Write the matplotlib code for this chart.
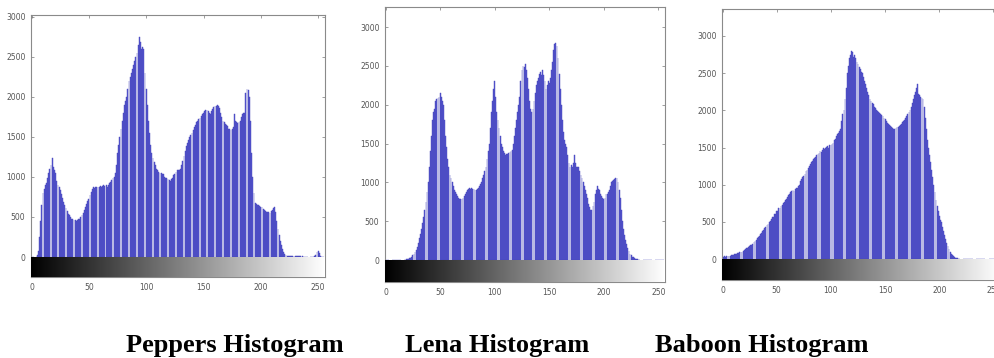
import numpy as np
import matplotlib
matplotlib.use("Agg")
import matplotlib.pyplot as plt

bins = np.arange(256)

peppers = [
    0, 0, 0, 0, 0, 20, 80, 250, 450, 650, 800, 850, 900, 930, 980, 1050,
    1100, 1150, 1230, 1120, 1080, 1050, 950, 900, 870, 840, 790, 740, 690, 650, 610, 570,
    540, 520, 500, 480, 470, 460, 460, 455, 460, 470, 480, 500, 520, 550, 590, 620,
    660, 700, 730, 770, 810, 850, 870, 860, 870, 870, 880, 880, 890, 880, 890, 900,
    890, 900, 880, 900, 920, 940, 960, 980, 1000, 1050, 1150, 1300, 1400, 1500, 1600, 1700,
    1800, 1900, 1950, 2000, 2100, 2200, 2250, 2300, 2350, 2400, 2450, 2500, 2550, 2650, 2750, 2680,
    2600, 2620, 2600, 2300, 2100, 1900, 1700, 1550, 1400, 1300, 1230, 1180, 1150, 1100, 1080, 1060,
    1050, 1050, 1040, 1030, 1000, 990, 980, 970, 960, 950, 970, 990, 1020, 1040, 1060, 1080,
    1080, 1090, 1100, 1150, 1200, 1260, 1320, 1380, 1420, 1460, 1500, 1520, 1550, 1580, 1620, 1650,
    1680, 1700, 1720, 1740, 1760, 1780, 1800, 1820, 1830, 1840, 1820, 1800, 1780, 1820, 1850, 1870,
    1880, 1890, 1900, 1890, 1860, 1800, 1750, 1700, 1680, 1660, 1650, 1630, 1600, 1600, 1590, 1600,
    1620, 1780, 1700, 1680, 1670, 1690, 1700, 1750, 1780, 1800, 1800, 2050, 2100, 2080, 2000, 1700,
    1300, 1000, 800, 680, 660, 650, 650, 640, 630, 620, 600, 590, 570, 560, 560, 560,
    550, 570, 590, 610, 620, 560, 450, 350, 280, 200, 150, 100, 60, 40, 25, 15,
    15, 15, 15, 15, 15, 15, 12, 10, 10, 10, 10, 10, 8, 6, 5, 5,
    5, 5, 5, 5, 5, 5, 5, 10, 30, 60, 70, 50, 10, 5, 5, 5,
]

lena = [
    0, 0, 0, 0, 0, 0, 0, 0, 0, 0, 0, 0, 0, 0, 0, 0,
    2, 3, 5, 8, 10, 15, 20, 30, 40, 60, 80, 100, 130, 170, 220, 280,
    340, 400, 480, 560, 650, 750, 880, 1000, 1200, 1400, 1600, 1800, 1900, 1950, 2050, 2070,
    2080, 2100, 2150, 2100, 2050, 2000, 1800, 1600, 1450, 1300, 1200, 1100, 1050, 1000, 950, 900,
    870, 850, 830, 800, 790, 780, 790, 800, 820, 850, 880, 900, 920, 930, 920, 930,
    920, 910, 900, 900, 910, 930, 950, 980, 1000, 1050, 1100, 1150, 1200, 1300, 1400, 1500,
    1700, 1900, 2050, 2200, 2300, 2100, 1900, 1800, 1700, 1600, 1500, 1450, 1400, 1380, 1350, 1360,
    1370, 1380, 1390, 1400, 1420, 1500, 1600, 1700, 1800, 1900, 2000, 2100, 2300, 2450, 2500, 2480,
    2520, 2450, 2350, 2200, 2050, 1950, 1900, 1950, 2050, 2150, 2250, 2300, 2350, 2400, 2420, 2380,
    2450, 2380, 2300, 2200, 2250, 2300, 2280, 2350, 2450, 2550, 2700, 2780, 2800, 2750, 2600, 2400,
    2200, 2000, 1800, 1650, 1550, 1500, 1450, 1350, 1250, 1200, 1220, 1200, 1250, 1350, 1250, 1200,
    1200, 1200, 1150, 1100, 1050, 1000, 950, 900, 850, 800, 720, 680, 650, 650, 700, 750,
    850, 900, 950, 920, 900, 850, 820, 800, 790, 800, 850, 850, 870, 900, 950, 1000,
    1020, 1030, 1040, 1050, 1060, 1000, 900, 800, 650, 500, 400, 320, 260, 200, 150, 110,
    80, 60, 45, 35, 25, 18, 12, 8, 5, 4, 3, 2, 2, 2, 1, 1,
    1, 1, 1, 1, 1, 1, 1, 1, 1, 1, 1, 1, 1, 1, 1, 1,
]

baboon = [
    30, 25, 35, 30, 40, 35, 45, 40, 50, 55, 50, 65, 70, 65, 80, 85,
    90, 100, 95, 110, 125, 130, 145, 150, 165, 170, 185, 195, 200, 225, 240, 255,
    280, 295, 310, 340, 350, 380, 395, 420, 430, 460, 470, 500, 510, 540, 560, 570,
    600, 610, 640, 650, 680, 690, 720, 730, 760, 770, 800, 810, 830, 860, 870, 900,
    910, 930, 920, 940, 950, 960, 980, 1000, 1050, 1080, 1100, 1120, 1150, 1180, 1200, 1230,
    1250, 1280, 1300, 1320, 1340, 1360, 1370, 1400, 1410, 1430, 1450, 1440, 1470, 1490, 1480, 1500,
    1510, 1520, 1500, 1530, 1540, 1550, 1560, 1600, 1620, 1650, 1680, 1700, 1720, 1750, 1850, 1950,
    2000, 2150, 2300, 2500, 2600, 2700, 2750, 2800, 2780, 2720, 2750, 2700, 2650, 2620, 2580, 2550,
    2520, 2500, 2450, 2400, 2350, 2300, 2250, 2200, 2150, 2120, 2100, 2080, 2050, 2030, 2000, 1990,
    1980, 1960, 1950, 1940, 1920, 1900, 1880, 1850, 1830, 1810, 1800, 1790, 1780, 1760, 1750, 1750,
    1760, 1770, 1780, 1790, 1800, 1820, 1840, 1850, 1870, 1900, 1920, 1950, 1980, 2000, 2050, 2100,
    2150, 2200, 2250, 2300, 2350, 2220, 2200, 2180, 2160, 2150, 2050, 1900, 1750, 1600, 1500, 1400,
    1300, 1200, 1100, 1000, 900, 800, 720, 650, 580, 520, 500, 430, 380, 320, 270, 220,
    180, 140, 100, 70, 50, 35, 25, 15, 10, 8, 6, 5, 4, 3, 3, 2,
    2, 2, 2, 2, 2, 2, 2, 2, 2, 2, 2, 2, 2, 2, 2, 2,
    2, 2, 2, 2, 2, 2, 2, 2, 2, 2, 2, 2, 2, 2, 2, 2,
]

captions = ["Peppers Histogram", "Lena Histogram", "Baboon Histogram"]
yticks = [0, 500, 1000, 1500, 2000, 2500, 3000]
xticks = [0, 50, 100, 150, 200, 250]

W, H = 995, 358
fig = plt.figure(figsize=(W / 100, H / 100), dpi=100)

# pixel boxes: left, right, top, bottom ; ylim (bottom, top)
panels = [
    (peppers, (31, 325, 15, 277), (-249, 3020)),
    (lena, (385, 665, 7, 282), (-283, 3258)),
    (baboon, (722, 1000, 9, 280), (-282, 3363)),
]

grad = np.linspace(0, 1, 256).reshape(1, -1)
for data, (l, r, t, b), ylim in panels:
    ax = fig.add_axes([l / W, 1 - b / H, (r - l) / W, (b - t) / H])
    ax.bar(bins, data, width=0.75, color="#5656d4", edgecolor="#4646b8",
           linewidth=0.3, align="center", zorder=2)
    ax.imshow(grad, cmap="gray", extent=[-0.5, 255.5, ylim[0], 0],
              aspect="auto", zorder=3)
    ax.set_xlim(-0.5, 256)
    ax.set_ylim(*ylim)
    ax.set_xticks(xticks)
    ax.set_yticks(yticks)
    ax.tick_params(direction="in", length=2.5, width=0.5, colors="#777777",
                   labelsize=5.5, labelcolor="#555555", top=True, right=True, pad=4)
    for s in ax.spines.values():
        s.set_color("#8a8a8a")
        s.set_linewidth(0.8)

cap_x = [235, 497, 762]
for cx, txt in zip(cap_x, captions):
    fig.text(cx / W, 1 - 352 / H, txt, ha="center", va="baseline",
             family="Liberation Serif", weight="bold", fontsize=19)

fig.savefig("out.png", dpi=100)
